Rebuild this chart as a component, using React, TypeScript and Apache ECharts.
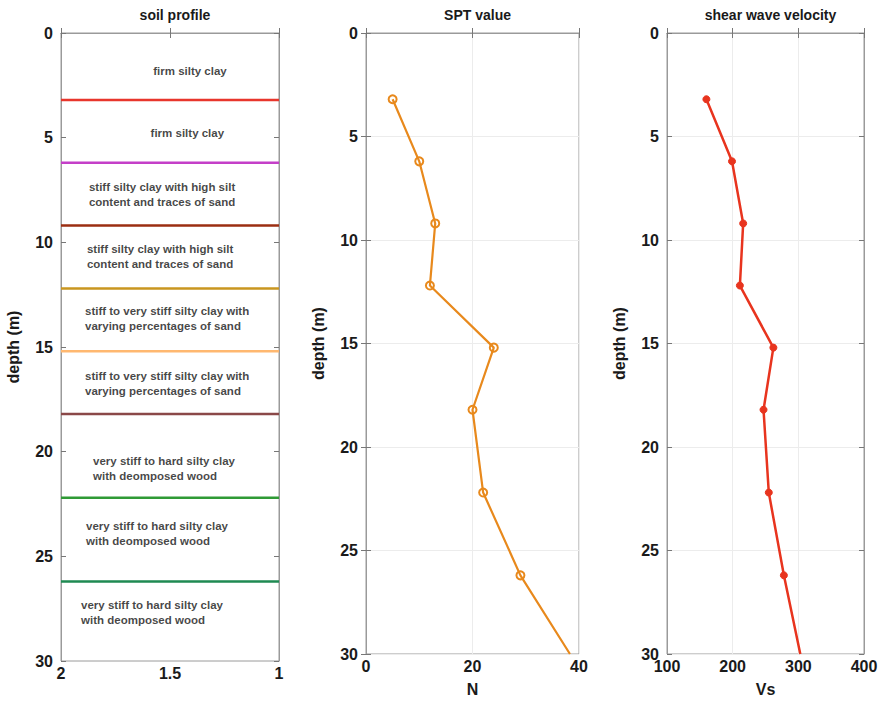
import React, { useEffect, useRef } from "react";
import * as echarts from "echarts";

// ---- data ----
const layerDepths = [3.2, 6.2, 9.2, 12.2, 15.2, 18.2, 22.2, 26.2];
const layerColors = ["#e8362c", "#c43fc8", "#9b2e12", "#c9961f", "#ffb870", "#8a4848", "#2f9a35", "#1f8a52"];

const soilTexts = [
  "firm silty clay",
  "firm silty clay",
  "stiff silty clay with high silt\ncontent and traces of sand",
  "stiff silty clay with high silt\ncontent and traces of sand",
  "stiff to very stiff silty clay with\nvarying percentages of sand",
  "stiff to very stiff silty clay with\nvarying percentages of sand",
  "very stiff to hard silty clay\nwith deomposed wood",
  "very stiff to hard silty clay\nwith deomposed wood",
  "very stiff to hard silty clay\nwith deomposed wood",
];
const soilTextDepths = [1.8, 4.8, 7.7, 10.7, 13.65, 16.75, 20.8, 23.9, 27.7];
const soilTextX = [1.577, 1.589, 1.872, 1.881, 1.89, 1.89, 1.853, 1.885, 1.908];

const sptDepths = [3.2, 6.2, 9.2, 12.2, 15.2, 18.2, 22.2, 26.2, 30];
const sptN = [5, 10, 13, 12, 24, 20, 22, 29, 38.3];

const vsDepths = [3.2, 6.2, 9.2, 12.2, 15.2, 18.2, 22.2, 26.2, 30];
const vsValues = [160, 199, 216, 211, 262, 247, 255, 278, 303];

const FONT = "'Liberation Sans', Arial, Helvetica, sans-serif";
const BOX = "#9a9a9a";

export default function App() {
  const ref = useRef<HTMLDivElement>(null);

  useEffect(() => {
    document.body.style.margin = "0";
    const chart = echarts.init(ref.current!, null, { renderer: "svg" });

    const grids = [
      { left: 61, top: 33, width: 218, height: 628 },
      { left: 366, top: 33, width: 213, height: 628 },
      { left: 667, top: 33, width: 197, height: 628 },
    ];
    const titles = ["soil profile", "SPT value", "shear wave velocity"];

    const xRanges = [
      { min: 1, max: 2, interval: 0.5, inverse: true, name: "", grid: false },
      { min: 0, max: 40, interval: 20, inverse: false, name: "N", grid: true },
      { min: 100, max: 400, interval: 100, inverse: false, name: "Vs", grid: true },
    ];

    const xAxis: any[] = [];
    const yAxis: any[] = [];
    xRanges.forEach((r, i) => {
      xAxis.push({
        type: "value",
        gridIndex: i,
        position: "bottom",
        min: r.min,
        max: r.max,
        interval: r.interval,
        inverse: r.inverse,
        name: r.name,
        nameLocation: "middle",
        nameGap: 27,
        nameTextStyle: { fontFamily: FONT, fontWeight: "bold", fontSize: 16, color: "#1a1a1a" },
        axisLine: { show: true, lineStyle: { color: BOX, width: 1 } },
        axisTick: { show: true, inside: true, length: 5, lineStyle: { color: "#777" } },
        axisLabel: { fontFamily: FONT, fontWeight: "bold", fontSize: 16, color: "#1a1a1a", margin: 4, formatter: (v: number) => String(v) },
        splitLine: { show: r.grid, lineStyle: { color: "#ececec", width: 1 } },
      });
      xAxis.push({
        type: "value",
        gridIndex: i,
        position: "top",
        min: r.min,
        max: r.max,
        interval: r.interval,
        inverse: r.inverse,
        axisLine: { show: true, lineStyle: { color: BOX, width: 1 } },
        axisTick: { show: true, inside: true, length: 5, lineStyle: { color: "#777" } },
        axisLabel: { show: false },
        splitLine: { show: false },
      });
      yAxis.push({
        type: "value",
        gridIndex: i,
        position: "left",
        min: 0,
        max: 30,
        interval: 5,
        inverse: true,
        name: "depth (m)",
        nameLocation: "middle",
        nameGap: 40,
        nameTextStyle: { fontFamily: FONT, fontWeight: "bold", fontSize: 16, color: "#1a1a1a" },
        axisLine: { show: true, lineStyle: { color: BOX, width: 1 } },
        axisTick: { show: true, inside: true, length: 5, lineStyle: { color: "#777" } },
        axisLabel: { fontFamily: FONT, fontWeight: "bold", fontSize: 16, color: "#1a1a1a", margin: 8 },
        splitLine: { show: r.grid, lineStyle: { color: "#ececec", width: 1 } },
      });
      yAxis.push({
        type: "value",
        gridIndex: i,
        position: "right",
        min: 0,
        max: 30,
        interval: 5,
        inverse: true,
        axisLine: { show: true, lineStyle: { color: BOX, width: 1 } },
        axisTick: { show: true, inside: true, length: 5, lineStyle: { color: "#777" } },
        axisLabel: { show: false },
        splitLine: { show: false },
      });
    });

    const series: any[] = [];
    layerDepths.forEach((d, i) => {
      series.push({
        type: "line",
        xAxisIndex: 0,
        yAxisIndex: 0,
        data: [[2, d], [1, d]],
        symbol: "none",
        lineStyle: { color: layerColors[i], width: 2.5 },
        z: 3,
      });
    });
    series.push({
      type: "scatter",
      xAxisIndex: 0,
      yAxisIndex: 0,
      symbolSize: 0,
      data: soilTexts.map((t, i) => ({ name: t, value: [soilTextX[i], soilTextDepths[i]] })),
      label: {
        show: true,
        position: "right",
        distance: 0,
        formatter: "{b}",
        align: "left",
        verticalAlign: "middle",
        fontFamily: FONT,
        fontSize: 11.5,
        fontWeight: "bold",
        lineHeight: 15,
        color: "#141414",
      },
    });
    series.push({
      type: "line",
      xAxisIndex: 2,
      yAxisIndex: 2,
      data: sptN.map((n, i) =>
        i === sptN.length - 1 ? { value: [n, sptDepths[i]], symbol: "none" } : { value: [n, sptDepths[i]] }
      ),
      symbol: "circle",
      symbolSize: 8,
      itemStyle: { color: "rgba(255,255,255,0)", borderColor: "#e8891c", borderWidth: 2 },
      lineStyle: { color: "#e8891c", width: 2.2 },
      z: 4,
    });
    series.push({
      type: "line",
      xAxisIndex: 4,
      yAxisIndex: 4,
      data: vsValues.map((v, i) =>
        i === vsValues.length - 1 ? { value: [v, vsDepths[i]], symbol: "none" } : { value: [v, vsDepths[i]] }
      ),
      symbol: "circle",
      symbolSize: 7,
      itemStyle: { color: "#e8341e", borderColor: "#e8341e", borderWidth: 1 },
      lineStyle: { color: "#e8341e", width: 2.5 },
      z: 4,
    });

    chart.setOption({
      animation: false,
      backgroundColor: "#ffffff",
      title: titles.map((t, i) => ({
        text: t,
        left: grids[i].left + grids[i].width / 2,
        top: 3,
        textAlign: "center",
        textStyle: { fontFamily: FONT, fontWeight: "bold", fontSize: 14, color: "#1a1a1a" },
      })),
      grid: grids.map((g) => ({ ...g, show: true, borderColor: BOX, borderWidth: 1, backgroundColor: "#fff" })),
      xAxis,
      yAxis,
      series,
    });

    return () => chart.dispose();
  }, []);

  return <div ref={ref} style={{ position: "absolute", left: 0, top: 0, width: 882, height: 702 }} />;
}
